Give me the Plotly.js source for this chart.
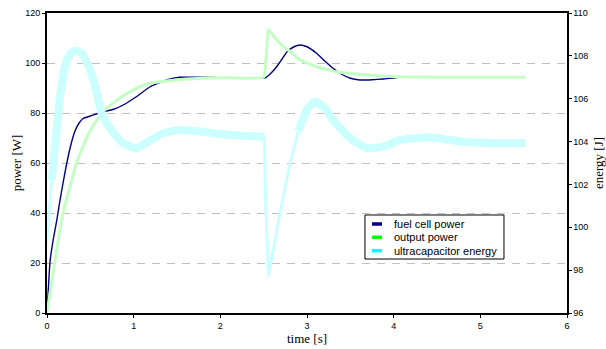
<!DOCTYPE html>
<html>
<head>
<meta charset="utf-8">
<script src="https://cdn.plot.ly/plotly-3.0.1.min.js"></script>
<style>html,body{margin:0;padding:0;background:#fff;}#chart{width:606px;height:349px;}</style>
</head>
<body>
<div id="chart"></div>
<script>
// ---- data ----
const seriesNames = ["fuel cell power", "output power", "ultracapacitor energy"];
const legendColors = ["#000080", "#00ff00", "#00ffff"];

// fuel cell power [W] (left axis)
const fcTime  = [0, 0.035, 0.07, 0.11, 0.14, 0.18, 0.22, 0.27, 0.32, 0.37, 0.42, 0.5, 0.61, 0.77, 0.88, 1.03, 1.19, 1.38, 1.53, 1.8, 2.0, 2.3, 2.52, 2.58, 2.65, 2.71, 2.77, 2.85, 2.92, 3.0, 3.11, 3.2, 3.3, 3.4, 3.5, 3.61, 3.75, 3.88, 4.07, 4.3, 4.8, 5.5];
const fcPower = [0, 20.5, 29, 36.5, 43, 51, 58.5, 66.5, 72.5, 76, 77.9, 78.8, 80.1, 81.5, 83.2, 86.5, 90.5, 93.2, 94.3, 94.3, 94.1, 94.1, 94.1, 95.8, 98.5, 101.5, 104.5, 106.5, 107.2, 106.5, 103.9, 101, 97.9, 95.5, 93.9, 93.2, 93.3, 93.6, 94.3, 94.3, 94.3, 94.3];

// output power [W] (left axis)
const outTime  = [0, 0.09, 0.19, 0.285, 0.34, 0.42, 0.5, 0.6, 0.69, 0.88, 1.07, 1.19, 1.3, 1.5, 1.77, 2.1, 2.5, 2.553, 2.62, 2.73, 2.82, 2.92, 3.11, 3.34, 3.69, 4.07, 4.5, 5.0, 5.52];
const outPower = [0, 20.5, 41, 53, 60, 67, 73, 78.5, 82, 87, 90.5, 91.9, 92.5, 93.3, 93.9, 94.1, 94.3, 113.5, 110.5, 106.5, 104.2, 101.2, 98.5, 96.5, 95.2, 94.5, 94.3, 94.3, 94.3];

// ultracapacitor energy [J] (right axis)
const ucTime   = [0, 0.02, 0.054, 0.11, 0.16, 0.22, 0.28, 0.34, 0.40, 0.46, 0.5, 0.56, 0.63, 0.7, 0.77, 0.88, 1.03, 1.15, 1.3, 1.45, 1.57, 1.75, 2.0, 2.25, 2.51, 2.52, 2.555, 2.69, 2.8, 2.9, 3.0, 3.09, 3.2, 3.3, 3.5, 3.69, 3.88, 4.07, 4.23, 4.42, 4.6, 4.8, 5.19, 5.52];
const ucEnergy = [99.3, 100.3, 102.2, 104.5, 106.4, 107.7, 108.15, 108.25, 108.1, 107.7, 107.34, 106.5, 105.33, 104.8, 104.39, 103.92, 103.69, 103.95, 104.31, 104.5, 104.54, 104.48, 104.35, 104.27, 104.23, 101.5, 97.7, 100.7, 102.9, 104.5, 105.5, 105.88, 105.6, 105.0, 104.15, 103.69, 103.76, 104.07, 104.15, 104.2, 104.1, 103.99, 103.92, 103.92];

const xTicks = [0, 1, 2, 3, 4, 5, 6];
const powerTicks = [0, 20, 40, 60, 80, 100, 120];
const energyTicks = [96, 98, 100, 102, 104, 106, 108, 110];

// ---- styling ----
const tickFont = {family: "Liberation Sans, Arial, sans-serif", size: 9, color: "#000"};
const titleFont = {family: "Liberation Serif, Times New Roman, serif", size: 13, color: "#000"};
const legendFont = {family: "Liberation Sans, Arial, sans-serif", size: 11, color: "#000"};

// thick band where the energy varies slowly, thin line along the steep start and the drop
const inThick = t => t >= 0.054 && !(t > 2.515 && t < 2.85);
const inThin = t => t <= 0.11 || (t >= 2.5 && t <= 2.92);
const ucThick = ucEnergy.map((e, i) => inThick(ucTime[i]) ? e : null);
const ucThin = ucEnergy.map((e, i) => inThin(ucTime[i]) ? e : null);

const traces = [
  {x: fcTime, y: fcPower, type: "scatter", mode: "lines", line: {color: "#000080", width: 1.4, shape: "spline", smoothing: 0.4}, showlegend: false, hoverinfo: "skip"},
  {x: outTime, y: outPower, type: "scatter", mode: "lines", line: {color: "#c4ffc4", width: 3, shape: "spline", smoothing: 0.3}, showlegend: false, hoverinfo: "skip"},
  {x: ucTime, y: ucThin, type: "scatter", mode: "lines", yaxis: "y2", connectgaps: false, line: {color: "#ccffff", width: 3}, showlegend: false, hoverinfo: "skip"},
  {x: ucTime, y: ucThick, type: "scatter", mode: "lines", yaxis: "y2", connectgaps: false, line: {color: "#ccffff", width: 8, shape: "spline", smoothing: 0.4}, showlegend: false, hoverinfo: "skip"}
];

// compact legend (box, line samples, labels) in paper coordinates
const lgX0 = 0.6115, lgX1 = 0.8788, lgY0 = 0.18, lgY1 = 0.3267;
const rowY = [0.2967, 0.2523, 0.2077];
const shapes = [
  {type: "rect", xref: "paper", yref: "paper", x0: lgX0, x1: lgX1, y0: lgY0, y1: lgY1, line: {color: "#000", width: 1}, fillcolor: "#fff", layer: "above"}
].concat(seriesNames.map((n, i) => ({type: "line", xref: "paper", yref: "paper", x0: 0.6250, x1: 0.6442, y0: rowY[i], y1: rowY[i], line: {color: legendColors[i], width: 3.5}, layer: "above"})));
const annotations = seriesNames.map((n, i) => ({text: n, xref: "paper", yref: "paper", x: 0.6635, y: rowY[i], xanchor: "left", yanchor: "middle", showarrow: false, font: legendFont}));

const layout = {
  width: 606, height: 349,
  margin: {l: 47, r: 39, t: 13, b: 36, pad: 0},
  paper_bgcolor: "#fff", plot_bgcolor: "#fff",
  showlegend: false,
  shapes: shapes,
  annotations: annotations,
  xaxis: {range: [0, 6], tickvals: xTicks, ticktext: xTicks.map(String), showgrid: false, zeroline: false,
          showline: true, linecolor: "#000", linewidth: 2, mirror: true, ticks: "outside", ticklen: 3, tickcolor: "#000",
          tickfont: tickFont, title: {text: "time [s]", font: titleFont, standoff: 4}},
  yaxis: {range: [0, 120], tickvals: powerTicks, ticktext: powerTicks.map(String), showgrid: true, gridcolor: "#c0c0c0", gridwidth: 1, griddash: "8px,7px",
          zeroline: false, showline: true, linecolor: "#000", linewidth: 2, ticks: "outside", ticklen: 3, tickcolor: "#000",
          tickfont: tickFont, title: {text: "power [W]", font: titleFont, standoff: 1}},
  yaxis2: {range: [96, 110], tickvals: energyTicks, ticktext: energyTicks.map(String), overlaying: "y", side: "right", showgrid: false,
           zeroline: false, showline: true, linecolor: "#000", linewidth: 1.5, ticks: "outside", ticklen: 3, tickcolor: "#000",
           tickfont: tickFont, title: {text: "energy [J]", font: titleFont, standoff: 6}}
};

Plotly.newPlot("chart", traces, layout, {staticPlot: true, displayModeBar: false});
</script>
</body>
</html>
